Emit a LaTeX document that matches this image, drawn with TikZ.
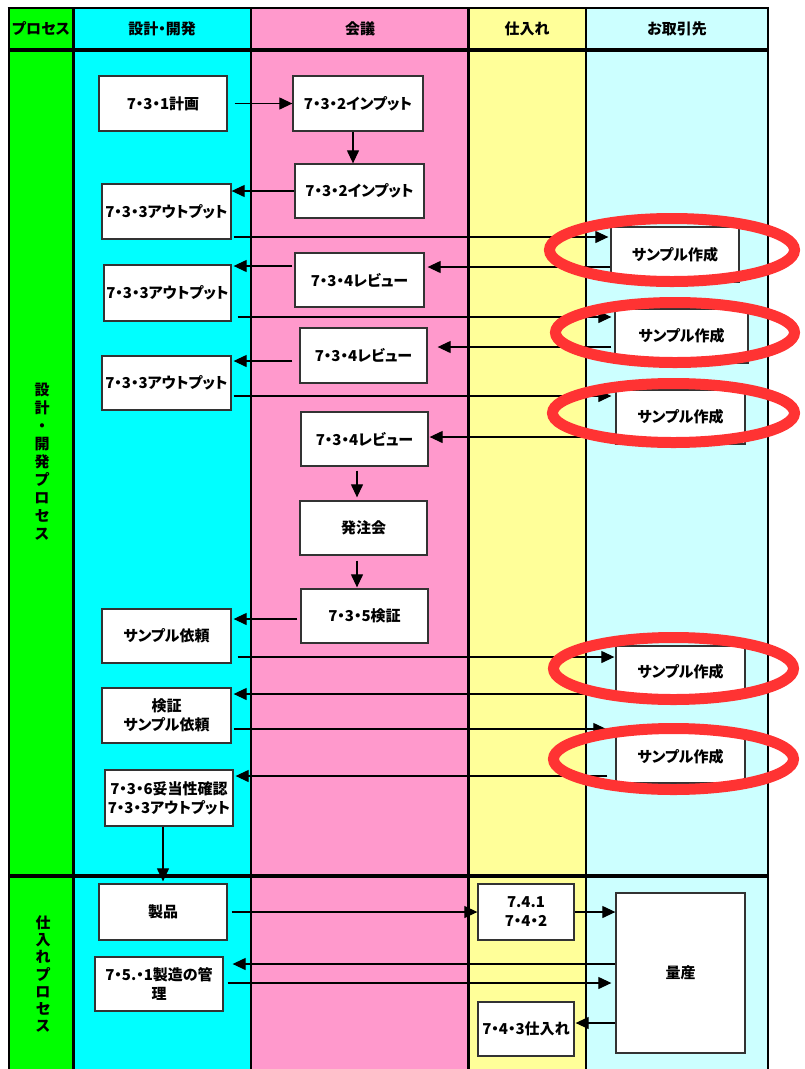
\documentclass[tikz,border=0pt]{standalone}
\usepackage{fontspec}
\newfontfamily\jp{Noto Sans CJK JP}[RawFeature=+palt]
\usetikzlibrary{arrows.meta,calc,shapes.geometric}
\definecolor{cgreen}{HTML}{00FF00}
\definecolor{ccyan}{HTML}{00FFFF}
\definecolor{cpink}{HTML}{FF99CC}
\definecolor{cyellow}{HTML}{FFFF99}
\definecolor{clcyan}{HTML}{CCFFFF}
\definecolor{cred}{HTML}{FF3333}
\definecolor{cbox}{HTML}{333333}
\begin{document}
\begin{tikzpicture}[x=1pt,y=-1pt,
  font=\jp\bfseries\fontsize{15}{19}\selectfont,
  box/.style={draw=cbox, line width=1.3pt, fill=white, align=center, inner sep=0pt},
  conn/.style={line width=1.2pt},
  arr/.style={conn, -{Triangle[length=13pt,width=12pt]}},
  ring/.style={draw=cred, line width=11pt, ellipse, inner sep=0pt},
  frame/.style={line width=2.6pt},
  vlabel/.style={align=center, inner sep=0pt}
]
\useasboundingbox (0,0) rectangle (805,1069);
% lanes
\fill[cgreen]  (9,8) rectangle (73.5,1069);
\fill[ccyan]   (73.5,8) rectangle (251,1069);
\fill[cpink]   (251,8) rectangle (468.5,1069);
\fill[cyellow] (468.5,8) rectangle (586,1069);
\fill[clcyan]  (586,8) rectangle (768,1069);
\foreach \xx in {9,73.5,251,468.5,586,768} \draw[frame] (\xx,8) -- (\xx,1069);
\draw[frame] (7.7,8) -- (769.3,8);
\draw[line width=4pt] (9,50) -- (768,50);
\draw[line width=4pt] (9,875.5) -- (768,875.5);
% headers
\node (h1) at (41,29) {プロセス};
\node (h2) at (162,29) {設計・開発};
\node (h3) at (360,29) {会議};
\node (h4) at (527,29) {仕入れ};
\node (h5) at (677,29) {お取引先};
% side labels
\node[vlabel, font=\jp\bfseries\fontsize{15}{18}\selectfont] (lab1) at (42,461.5) {設\\計\\・\\開\\発\\プ\\ロ\\セ\\ス};
\node[vlabel, font=\jp\bfseries\fontsize{15}{17.3}\selectfont] (lab2) at (43,974) {仕\\入\\れ\\プ\\ロ\\セ\\ス};
% boxes
\node[box, minimum width=128pt, minimum height=55pt] (p731) at (163,103.5) {7・3・1計画};
\node[box, minimum width=130pt, minimum height=55pt] (in1) at (358,103.5) {7・3・2インプット};
\node[box, minimum width=129pt, minimum height=54pt] (in2) at (359.5,191) {7・3・2インプット};
\node[box, minimum width=129pt, minimum height=55pt] (out1) at (166.5,211.5) {7・3・3アウトプット};
\node[box, minimum width=129pt, minimum height=54pt] (rev1) at (359.5,280) {7・3・4レビュー};
\node[box, minimum width=127pt, minimum height=56pt] (out2) at (167.5,293) {7・3・3アウトプット};
\node[box, minimum width=127pt, minimum height=55pt] (rev2) at (363.5,355.5) {7・3・4レビュー};
\node[box, minimum width=129pt, minimum height=54pt] (out3) at (166.5,383) {7・3・3アウトプット};
\node[box, minimum width=127pt, minimum height=54pt] (rev3) at (364.5,439) {7・3・4レビュー};
\node[box, minimum width=127pt, minimum height=54pt] (hachu) at (363.5,528) {発注会};
\node[box, minimum width=127pt, minimum height=54pt] (v735) at (364.5,616) {7・3・5検証};
\node[box, minimum width=129pt, minimum height=54pt] (sreq) at (166.5,636) {サンプル依頼};
\node[box, minimum width=129pt, minimum height=55pt] (vreq) at (166.5,715.5) {検証\\サンプル依頼};
\node[box, minimum width=128pt, minimum height=56pt] (val) at (169,798) {7・3・6妥当性確認\\7・3・3アウトプット};
\node[box, minimum width=128pt, minimum height=56pt] (seihin) at (163,912) {製品};
\node[box, minimum width=128pt, minimum height=54pt] (mfg) at (159,984) {7・5.・1製造の管\\理};
\node[box, minimum width=96pt, minimum height=56pt] (p741) at (526,912) {7.4.1\\7・4・2};
\node[box, minimum width=96pt, minimum height=54pt] (p743) at (526,1029) {7・4・3仕入れ};
\node[box, minimum width=129pt, minimum height=160pt] (ryosan) at (680.5,973) {量産};
\node[box, minimum width=128pt, minimum height=55pt] (s1) at (675,254.5) {サンプル作成};
\node[box, minimum width=133pt, minimum height=54pt] (s2) at (681.5,336) {サンプル作成};
\node[box, minimum width=129pt, minimum height=54pt] (s3) at (680.5,417) {サンプル作成};
\node[box, minimum width=129pt, minimum height=52pt] (s4) at (680.5,672) {サンプル作成};
\node[box, minimum width=129pt, minimum height=53pt] (s5) at (680.5,756.5) {サンプル作成};
% connectors
\draw[arr] ($(p731.east)+(7,0)$) -- (in1.west);
\draw[arr] ($(in1.south)+(-5,0)$) -- ($(in1.south|-in2.north)+(-5,0)$);
\draw[arr] (in2.west) -- (in2.west-|out1.east);
\draw[arr] ($(out1.east|-0,237)+(2,0)$) -- ($(s1.west|-0,237)+(-2,0)$);
\draw[arr] (s1.west|-0,267) -- ($(rev1.east|-0,267)+(3,0)$);
\draw[arr] ($(rev1.west|-0,266)+(-2,0)$) -- ($(out2.east|-0,266)+(2,0)$);
\draw[arr] ($(out2.east|-0,317)+(6,0)$) -- ($(s2.west|-0,317)+(-3,0)$);
\draw[arr] ($(s2.west|-0,347)+(-3,0)$) -- ($(rev2.east|-0,347)+(10,0)$);
\draw[arr] ($(rev2.west|-0,361)+(-7,0)$) -- ($(out3.east|-0,361)+(2,0)$);
\draw[arr] ($(out3.east|-0,396)+(2,0)$) -- ($(s3.west|-0,396)+(-4,0)$);
\draw[arr] ($(s3.west|-0,437)+(-3,0)$) -- ($(rev3.east|-0,437)+(1,0)$);
\draw[arr] ($(rev3.south)+(-7.5,4)$) -- ($(hachu.north)+(-6.5,-3)$);
\draw[arr] ($(hachu.south)+(-6.5,5)$) -- ($(v735.north)+(-7.5,-1)$);
\draw[arr] ($(v735.west|-0,619)+(-3,0)$) -- ($(sreq.east|-0,619)+(2,0)$);
\draw[arr] ($(sreq.east|-0,657)+(6,0)$) -- ($(s4.west|-0,657)+(-1,0)$);
\draw[arr] (s4.west|-0,694) -- ($(vreq.east|-0,694)+(2,0)$);
\draw[arr] ($(vreq.east|-0,729)+(2,0)$) -- ($(s5.west|-0,729)+(-9,0)$);
\draw[arr] ($(s5.west|-0,776)+(-8,0)$) -- ($(val.east|-0,776)+(2,0)$);
\draw[arr] ($(val.south)+(-6,0)$) -- ($(seihin.north)+(0,-2)$);
\draw[arr] ($(seihin.east)+(4,0)$) -- (p741.west);
\draw[arr] (p741.east) -- (p741.east-|ryosan.west);
\draw[arr] (ryosan.west|-0,964) -- ($(mfg.east|-0,964)+(9,0)$);
\draw[arr] ($(mfg.east|-0,983)+(4,0)$) -- ($(ryosan.west|-0,983)+(-4,0)$);
\draw[arr] (ryosan.west|-0,1023) -- ($(p743.east|-0,1023)+(1,0)$);
% red rings
\node[ring, minimum width=245pt, minimum height=63pt] (e1) at (672,250) {};
\node[ring, minimum width=239pt, minimum height=60pt] (e2) at (675,332.5) {};
\node[ring, minimum width=242pt, minimum height=59pt] (e3) at (673.5,413) {};
\node[ring, minimum width=240pt, minimum height=62pt] (e4) at (673.5,668.5) {};
\node[ring, minimum width=240pt, minimum height=61pt] (e5) at (673.5,759) {};
\end{tikzpicture}
\end{document}
